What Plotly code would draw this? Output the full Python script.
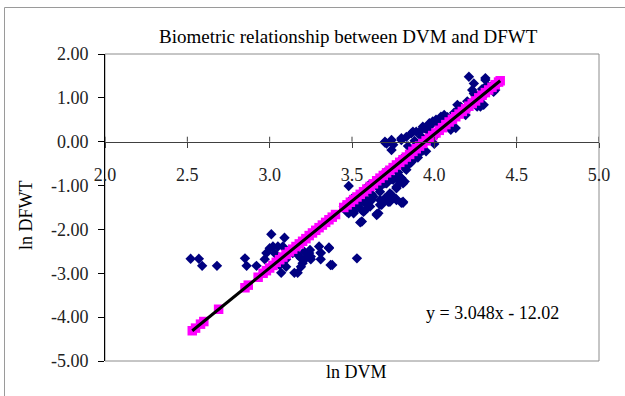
import plotly.graph_objects as go

# ---------------- data ----------------
obs_x = [2.52, 2.57, 2.59, 2.68, 2.85, 2.86, 2.92, 2.97, 2.98, 3.00, 3.01, 3.02, 3.03, 3.05,
         3.06, 3.07, 3.08, 3.09, 3.10, 3.10, 3.14, 3.15, 3.17, 3.17, 3.19, 3.19, 3.21, 3.22,
         3.20, 3.24, 3.25, 3.25, 3.31, 3.31, 3.31, 3.36, 3.36, 3.37, 3.38, 3.53, 3.245, 3.30,
         3.45, 3.47, 3.48, 3.48, 3.48, 3.49, 3.51, 3.51, 3.54, 3.55, 3.55, 3.56, 3.56, 3.57,
         3.58, 3.59, 3.59, 3.61, 3.62, 3.63, 3.65, 3.65, 3.66, 3.67, 3.67, 3.67, 3.67, 3.68,
         3.70, 3.71, 3.72, 3.73, 3.73, 3.74, 3.75, 3.77, 3.77, 3.77, 3.77, 3.77, 3.79, 3.79,
         3.80, 3.80, 3.81, 3.81, 3.81, 3.82, 3.83, 3.85, 3.87, 3.90, 3.93,
         3.70, 3.70, 3.71, 3.74, 3.74, 3.75, 3.80, 3.80, 3.83, 3.86, 3.87, 3.89, 3.91, 3.93,
         3.94, 3.97, 3.98, 3.99, 4.01, 4.04, 4.05, 4.06, 4.10, 4.13, 4.14, 4.14, 4.19, 4.21,
         4.23, 4.24, 4.24, 4.26, 4.28, 4.29, 4.30, 4.31, 4.31, 4.32, 4.36, 4.37,
         3.50, 3.55, 3.60, 3.65, 3.70, 3.75, 3.80, 3.85, 3.90, 3.95, 4.00, 4.05, 4.10, 4.15,
         4.20, 4.25, 4.30, 4.35, 4.38,
         3.84, 3.88, 3.92, 3.96, 4.02, 4.08, 4.12, 4.16, 4.20, 4.25, 4.29,
         3.47, 3.52, 3.57, 3.62, 3.66, 3.70, 3.74, 3.78, 3.82, 3.86, 3.90, 3.95, 4.00]
obs_y = [-2.67, -2.67, -2.83, -2.83, -2.66, -2.83, -2.83, -2.68, -2.54, -2.43, -2.11, -2.39, -2.54, -2.39,
         -2.81, -2.99, -2.39, -2.19, -2.68, -2.85, -2.54, -2.99, -2.99, -2.58, -2.66, -2.85, -2.51, -2.66,
         -2.77, -2.54, -2.68, -2.62, -2.54, -2.68, -2.53, -2.43, -2.41, -2.81, -2.81, -2.66, -2.47, -2.39,
         -1.48, -1.48, -1.63, -1.60, -1.01, -1.48, -1.60, -1.63, -1.40, -1.84, -1.40, -1.56, -1.82, -1.60,
         -1.56, -1.44, -1.33, -1.48, -1.33, -1.25, -1.67, -1.65, -1.63, -1.44, -1.33, -1.14, -1.03, -1.44,
         -1.29, -0.95, -1.37, -1.37, -1.18, -1.21, -0.87, -1.31, -1.33, -1.06, -1.03, -0.83, -0.80, -0.91,
         -1.39, -0.83, -1.37, -1.39, -0.95, -0.91, -0.64, -0.50, -0.42, -0.30, -0.20,
         -0.02, 0.00, -0.04, 0.04, -0.19, -0.07, 0.04, 0.08, 0.11, 0.19, 0.23, 0.23, 0.23, 0.34,
         0.31, 0.42, 0.38, 0.46, 0.50, 0.57, 0.46, 0.61, 0.27, 0.31, 0.84, 0.72, 0.61, 1.48,
         1.18, 1.33, 1.10, 0.80, 0.80, 1.14, 0.84, 1.45, 1.41, 1.29, 1.14, 1.18,
         -1.30, -1.25, -1.00, -0.95, -0.70, -0.62, -0.40, -0.33, -0.10, 0.05, 0.12, 0.37, 0.44, 0.66,
         0.74, 0.98, 1.05, 1.28, 1.30,
         -0.10, 0.02, 0.12, 0.25, 0.40, 0.56, 0.66, 0.80, 0.92, 1.05, 1.20,
         -1.60, -1.50, -1.35, -1.20, -1.05, -0.95, -0.85, -0.70, -0.60, -0.47, -0.36, -0.22, -0.05]

pred_x = [2.53, 2.55, 2.58, 2.60, 2.69, 2.85, 2.87, 2.93, 2.96, 2.98, 3.00, 3.02, 3.04, 3.06,
          3.08, 3.10, 3.12, 3.14, 3.16, 3.18, 3.20, 3.22, 3.24, 3.26, 3.28, 3.30, 3.32, 3.34,
          3.36, 3.38, 3.40, 3.45, 3.47, 3.49, 3.51, 3.53, 3.55, 3.57, 3.59, 3.61, 3.63, 3.65,
          3.67, 3.69, 3.71, 3.73, 3.75, 3.77, 3.79, 3.81, 3.83, 3.85, 3.87, 3.89, 3.91, 3.93,
          3.95, 3.97, 3.99, 4.01, 4.03, 4.05, 4.07, 4.09, 4.11, 4.13, 4.15, 4.17, 4.19, 4.21,
          4.23, 4.25, 4.27, 4.29, 4.31, 4.33, 4.35, 4.37, 4.39, 4.40]
pred_y = [-4.31, -4.25, -4.16, -4.10, -3.82, -3.33, -3.27, -3.09, -3.00, -2.94, -2.88, -2.82, -2.75, -2.69,
          -2.63, -2.57, -2.51, -2.45, -2.39, -2.33, -2.27, -2.21, -2.14, -2.08, -2.02, -1.96, -1.90, -1.84,
          -1.78, -1.72, -1.66, -1.50, -1.44, -1.38, -1.32, -1.26, -1.20, -1.14, -1.08, -1.02, -0.96, -0.89,
          -0.83, -0.77, -0.71, -0.65, -0.59, -0.53, -0.47, -0.41, -0.35, -0.29, -0.22, -0.16, -0.10, -0.04,
          0.02, 0.08, 0.14, 0.20, 0.26, 0.32, 0.39, 0.45, 0.51, 0.57, 0.63, 0.69, 0.75, 0.81,
          0.87, 0.93, 1.00, 1.06, 1.12, 1.18, 1.24, 1.30, 1.36, 1.39]

trend_x = [2.53, 4.40]
trend_y = [-4.31, 1.39]

xtick_vals = [2.0, 2.5, 3.0, 3.5, 4.0, 4.5, 5.0]
xtick_text = ["2.0", "2.5", "3.0", "3.5", "4.0", "4.5", "5.0"]
ytick_vals = [-5, -4, -3, -2, -1, 0, 1, 2]
ytick_text = ["-5.00", "-4.00", "-3.00", "-2.00", "-1.00", "0.00", "1.00", "2.00"]

title_text = "Biometric relationship between DVM and DFWT"
xtitle = "ln DVM"
ytitle = "ln DFWT"
equation = "y = 3.048x - 12.02"

# ---------------- layout helpers (pixel geometry) ----------------
W, H = 625, 396
L, R, T, B = 105, 599, 54, 361
def px(x):
    return (x - L) / (R - L)
def py(y):
    return (B - y) / (B - T)

FONT = "Liberation Serif, Times New Roman, serif"

fig = go.Figure()
fig.add_trace(go.Scatter(x=obs_x, y=obs_y, mode="markers",
                         marker=dict(symbol="diamond", size=8, color="#000080", line=dict(width=0)),
                         hoverinfo="skip"))
fig.add_trace(go.Scatter(x=pred_x, y=pred_y, mode="markers",
                         marker=dict(symbol="square", size=9.5, color="#FF00FF", line=dict(width=0)),
                         hoverinfo="skip"))
fig.add_trace(go.Scatter(x=trend_x, y=trend_y, mode="lines",
                         line=dict(color="black", width=3), hoverinfo="skip"))

shapes = [
    # plot-area frame
    dict(type="rect", xref="paper", yref="paper", x0=0, x1=1, y0=0, y1=1,
         line=dict(color="#8c8c8c", width=1), layer="below"),
    # outer chart border (left and top visible)
    dict(type="line", xref="paper", yref="paper", x0=px(4.5), x1=px(4.5), y0=py(7.5), y1=py(400),
         line=dict(color="#9a9a9a", width=1)),
    dict(type="line", xref="paper", yref="paper", x0=px(4.5), x1=px(630), y0=py(7.5), y1=py(7.5),
         line=dict(color="#9a9a9a", width=1)),
]
# upward half of the crossing x ticks
for v in xtick_vals:
    shapes.append(dict(type="line", xref="x", yref="y", ysizemode="pixel", yanchor=0,
                       x0=v, x1=v, y0=0, y1=5, line=dict(color="#404040", width=1)))

fig.update_layout(
    width=W, height=H,
    margin=dict(l=L, r=W - R, t=T, b=H - B, pad=0),
    paper_bgcolor="white", plot_bgcolor="white",
    showlegend=False,
    font=dict(family=FONT, size=18, color="black"),
    xaxis=dict(range=[2, 5], tickvals=xtick_vals, ticktext=xtick_text,
               anchor="free", position=5 / 7,
               showgrid=False, zeroline=False, showline=True, linecolor="#404040", linewidth=1,
               ticks="outside", ticklen=5, tickcolor="#404040", ticklabelstandoff=12,
               tickfont=dict(family=FONT, size=18, color="#222")),
    yaxis=dict(range=[-5, 2], tickvals=ytick_vals, ticktext=ytick_text,
               showgrid=False, zeroline=False, showline=True, linecolor="black", linewidth=1,
               ticks="outside", ticklen=6, tickcolor="black", ticklabelstandoff=6,
               tickfont=dict(family=FONT, size=18, color="#222")),
    shapes=shapes,
    annotations=[
        dict(text=title_text, xref="paper", yref="paper", x=px(348), y=py(37),
             xanchor="center", yanchor="middle", showarrow=False,
             font=dict(family=FONT, size=19, color="black")),
        dict(text=xtitle, xref="paper", yref="paper", x=px(356), y=py(372),
             xanchor="center", yanchor="middle", showarrow=False,
             font=dict(family=FONT, size=18, color="black")),
        dict(text=ytitle, xref="paper", yref="paper", x=px(26), y=py(215),
             xanchor="center", yanchor="middle", textangle=-90, showarrow=False,
             font=dict(family=FONT, size=18, color="black")),
        dict(text=equation, xref="paper", yref="paper", x=px(492), y=py(313),
             xanchor="center", yanchor="middle", showarrow=False,
             font=dict(family=FONT, size=18, color="black")),
    ],
)

fig.write_html("out.html")
